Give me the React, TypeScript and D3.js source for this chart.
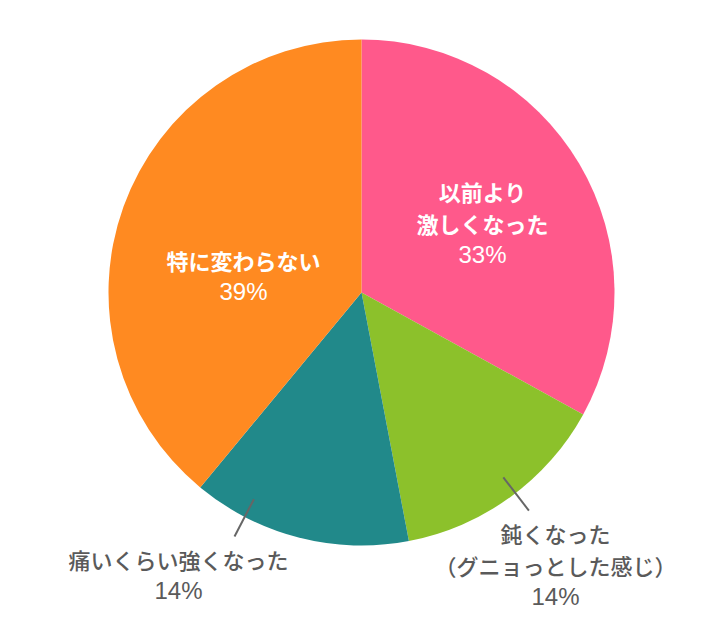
import React from "react";
import * as d3 from "d3";

const categories = ["以前より激しくなった", "鈍くなった（グニョっとした感じ）", "痛いくらい強くなった", "特に変わらない"];
const values = [33, 14, 14, 39];
const colors = ["#FF598B", "#8CC12B", "#21898A", "#FF8A21"];
const labelLines = [
  ["以前より", "激しくなった"],
  ["鈍くなった", "（グニョっとした感じ）"],
  ["痛いくらい強くなった"],
  ["特に変わらない"],
];
const percentLabels = ["33%", "14%", "14%", "39%"];

// layout config: label anchor offsets relative to pie center, inside flag, leader line angles
const labelLayout = [
  { dx: 121, dy: -70, inside: true, leader: null as null | number },
  { dx: 194, dy: 272, inside: false, leader: 142.5 },
  { dx: -183, dy: 282, inside: false, leader: 207.5 },
  { dx: -118, dy: -17, inside: true, leader: null as null | number },
];

const W = 710;
const H = 630;
const cx = 361.5;
const cy = 292.5;
const R = 253;
const lineH = 32;

export default function App() {
  const pie = d3.pie<number>().sort(null).value((d) => d);
  const arcs = pie(values);
  const arcGen = d3.arc<d3.PieArcDatum<number>>().innerRadius(0).outerRadius(R);

  return (
    <svg
      width={W}
      height={H}
      style={{ position: "absolute", left: 0, top: 0, background: "#fff" }}
      fontFamily="'Noto Sans CJK JP', 'Noto Sans', sans-serif"
    >
      <g transform={`translate(${cx},${cy})`}>
        {arcs.map((a, i) => (
          <path key={categories[i]} d={arcGen(a) || ""} fill={colors[i]} />
        ))}
        {labelLayout.map((l, i) => {
          if (l.leader === null) return null;
          const ang = (l.leader * Math.PI) / 180;
          const r0 = 233;
          const r1 = 275;
          return (
            <line
              key={"ld" + i}
              x1={r0 * Math.sin(ang)}
              y1={-r0 * Math.cos(ang)}
              x2={r1 * Math.sin(ang)}
              y2={-r1 * Math.cos(ang)}
              stroke="#666"
              strokeWidth={2}
            />
          );
        })}
        {labelLayout.map((l, i) => {
          const lines = labelLines[i];
          const n = lines.length + 1;
          const fill = l.inside ? "#fff" : "#5a5a5a";
          return (
            <g key={"lb" + i}>
              <text textAnchor="middle" fontSize={22} fontWeight={l.inside ? 700 : 500} fill={fill}>
                {lines.map((s, k) => (
                  <tspan key={k} x={l.dx} y={l.dy + (k - (n - 1) / 2) * lineH} dominantBaseline="central">
                    {s}
                  </tspan>
                ))}
              </text>
              <text
                textAnchor="middle"
                fontSize={24}
                fontFamily="'Liberation Sans', Arial, sans-serif"
                fill={fill}
                x={l.dx}
                y={l.dy + (n - 1 - (n - 1) / 2) * lineH}
                dominantBaseline="central"
              >
                {percentLabels[i]}
              </text>
            </g>
          );
        })}
      </g>
    </svg>
  );
}
